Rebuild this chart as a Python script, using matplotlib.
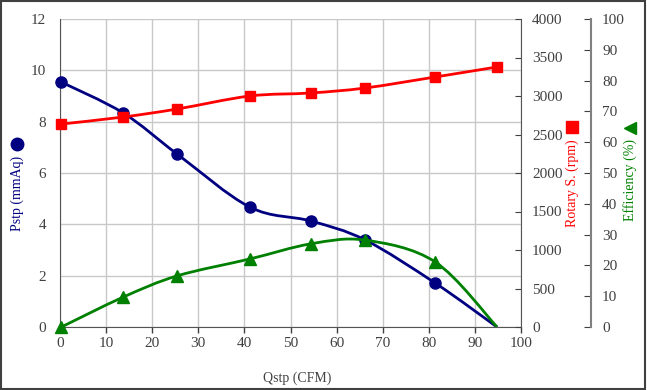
# Fan performance curve: static pressure, rotary speed and efficiency vs flow
import numpy as np
import matplotlib.pyplot as plt
from matplotlib.path import Path
from matplotlib.patches import PathPatch, Rectangle
from matplotlib.lines import Line2D

plt.rcParams['font.family'] = ['Liberation Serif', 'DejaVu Sans']

# Data
qstp = [0.3, 13.7, 25.4, 41.2, 54.4, 66.2, 81.4, 94.8]          # CFM
pstp = [9.54, 8.34, 6.74, 4.67, 4.13, 3.39, 1.71, 0.0]          # mmAq
rpm = [2636, 2727, 2831, 3000, 3039, 3104, 3247, 3377]          # rpm
eff = [0.0, 9.7, 16.6, 22.1, 27.0, 28.2, 21.1, 0.0]             # %

x_ticks = list(range(0, 101, 10))
p_ticks = list(range(0, 13, 2))
rpm_ticks = list(range(0, 4001, 500))
eff_ticks = list(range(0, 101, 10))

NAVY = '#000080'
RED = '#ff0000'
GREEN = '#008000'
TICK_C = '#404040'


def smooth_path(x, y):
    # Excel style smoothed line (Catmull-Rom as cubic Bezier) through the points
    pts = np.column_stack([x, y]).astype(float)
    n = len(pts)
    verts = [pts[0]]
    codes = [Path.MOVETO]
    for i in range(n - 1):
        p0 = pts[i - 1] if i > 0 else pts[i]
        p3 = pts[i + 2] if i + 2 < n else pts[i + 1]
        c1 = pts[i] + (pts[i + 1] - p0) / 6
        c2 = pts[i + 1] - (p3 - pts[i]) / 6
        verts += [c1, c2, pts[i + 1]]
        codes += [Path.CURVE4] * 3
    return Path(verts, codes)


fig = plt.figure(figsize=(6.47, 3.9), dpi=100)
ax = fig.add_axes([60 / 647, 63 / 390, 461 / 647, 308 / 390])
ax2 = ax.twinx()
ax3 = ax.twinx()

# main axis: static pressure
ax.set_xlim(0, 100)
ax.set_ylim(0, 12)
ax.set_xticks(x_ticks)
ax.set_yticks(p_ticks)
ax.grid(True, color='#c8c8c8', lw=1)
ax.set_axisbelow(True)
ax.tick_params(axis='x', colors=TICK_C, labelsize=11, length=4, width=1, pad=3)
ax.tick_params(axis='y', colors=TICK_C, labelsize=11, length=0, pad=10)
ax.spines['top'].set_visible(False)
ax.spines['right'].set_visible(False)
for s in ['left', 'bottom']:
    ax.spines[s].set_color('#555555')
ax.add_patch(PathPatch(smooth_path(qstp, pstp), fill=False, edgecolor=NAVY, lw=2))
# the zero-pressure end point has no marker in the reference
ax.plot(qstp[:-1], pstp[:-1], 'o', color=NAVY, ms=8, clip_on=False, zorder=3)

# rotary speed
ax2.set_ylim(0, 4000)
ax2.set_yticks(rpm_ticks)
ax2.tick_params(axis='y', direction='in', colors=TICK_C, labelsize=11, length=4, pad=8)
ax2.spines['right'].set_color('#555555')
for s in ['top', 'left', 'bottom']:
    ax2.spines[s].set_visible(False)
ax2.add_patch(PathPatch(smooth_path(qstp, rpm), fill=False, edgecolor=RED, lw=2))
ax2.plot(qstp, rpm, 's', color=RED, ms=7.5, clip_on=False, zorder=3)

# efficiency
ax3.spines['right'].set_position(('axes', (591 - 60) / 461))
ax3.set_ylim(0, 100)
ax3.set_yticks(eff_ticks)
ax3.tick_params(axis='y', direction='in', colors=TICK_C, labelsize=11, length=5, pad=8)
ax3.spines['right'].set_color('#808080')
ax3.spines['right'].set_linewidth(1.5)
for s in ['top', 'left', 'bottom']:
    ax3.spines[s].set_visible(False)
ax3.add_patch(PathPatch(smooth_path(qstp, eff), fill=False, edgecolor=GREEN, lw=2))
ax3.plot(qstp[:-1], eff[:-1], '^', color=GREEN, ms=8.5, clip_on=False, zorder=3)

# axis titles
fig.text(297 / 647, 1 - 378 / 390, 'Qstp (CFM)', ha='center', va='center',
         fontsize=10, color=TICK_C)
fig.text(17 / 647, 1 - 193 / 390, 'Pstp (mmAq)', rotation=90, ha='center', va='center',
         fontsize=10, color=NAVY)
fig.text(572 / 647, 1 - 183 / 390, 'Rotary S. (rpm)', rotation=90, ha='center', va='center',
         fontsize=10, color=RED)
fig.text(630 / 647, 1 - 180 / 390, 'Efficiency (%)', rotation=90, ha='center', va='center',
         fontsize=10, color=GREEN)
fig.add_artist(Line2D([17 / 647], [1 - 144 / 390], marker='o', color=NAVY, ms=9,
                      transform=fig.transFigure))
fig.add_artist(Line2D([572 / 647], [1 - 127 / 390], marker='s', color=RED, ms=9,
                      transform=fig.transFigure))
fig.add_artist(Line2D([630 / 647], [1 - 128 / 390], marker='<', color=GREEN, ms=9,
                      transform=fig.transFigure))

# chart frame
fig.add_artist(Rectangle((0.002, 0.003), 0.995, 0.994, transform=fig.transFigure,
                         fill=False, edgecolor='#404040', lw=1.5))

fig.savefig('out.png', dpi=100)
